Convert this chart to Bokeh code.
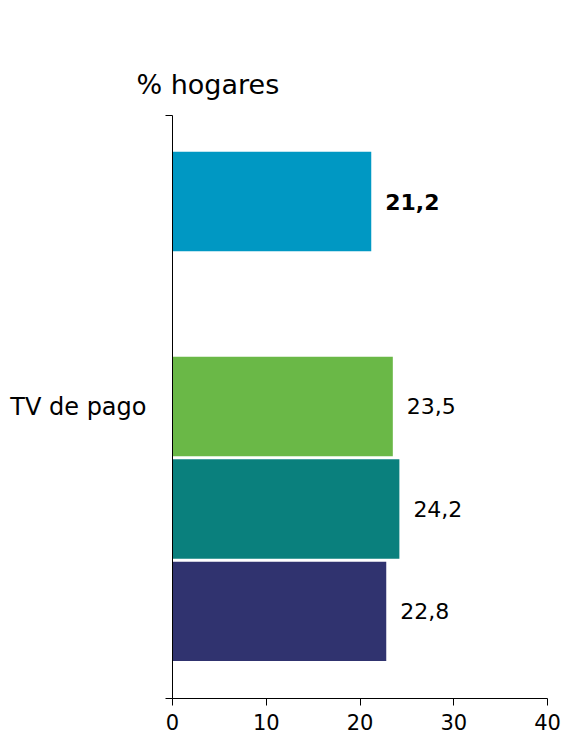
from bokeh.plotting import figure
from bokeh.models import Range1d, FixedTicker, CustomJSTickFormatter, ColumnDataSource
from bokeh.core.properties import value
from bokeh.embed import file_html
from bokeh.resources import INLINE

# ---- data ----
category = "TV de pago"
title_text = "% hogares"
series_values = [21.2, 23.5, 24.2, 22.8]
series_labels = ["21,2", "23,5", "24,2", "22,8"]
series_bold = [True, False, False, False]
x_ticks = [0, 10, 20, 30, 40]

# ---- layout / style ----
colors = ["#0098C3", "#6AB847", "#0A807D", "#30336F"]
slot_pos = [4.85, 2.85, 1.85, 0.85]
bar_h = 0.97
y_top = 5.69
FONT = "DejaVu Sans"

p = figure(width=564, height=738, output_backend="svg", toolbar_location=None,
           x_range=Range1d(0, 40), y_range=Range1d(0, y_top),
           min_border_left=172, min_border_right=17, min_border_top=115, min_border_bottom=40)
p.outline_line_color = None
p.xgrid.visible = False
p.ygrid.visible = False
p.background_fill_color = "white"
p.border_fill_color = "white"

src = ColumnDataSource(dict(
    y=slot_pos, v=series_values, c=colors, lab=series_labels,
    fw=["bold" if b else "normal" for b in series_bold],
))
p.hbar(y="y", right="v", left=0, height=bar_h, fill_color="c", line_color=None, source=src)
p.text(x="v", y="y", text="lab", source=src, x_offset=14, text_align="left",
       text_baseline="middle", text_font=value(FONT), text_font_size="22px",
       text_font_style="fw", text_color="black")

# x axis
xa = p.xaxis[0]
xa.ticker = FixedTicker(ticks=x_ticks, minor_ticks=[])
xa.major_tick_out = 7
xa.major_tick_in = 0
xa.minor_tick_out = 0
xa.minor_tick_in = 0
xa.axis_line_color = "black"
xa.major_tick_line_color = "black"
xa.major_label_text_font = FONT
xa.major_label_text_font_size = "21px"
xa.major_label_text_color = "black"
xa.major_label_standoff = 8

# y axis
ya = p.yaxis[0]
ya.ticker = FixedTicker(ticks=[y_top / 2], minor_ticks=[0, y_top])
ya.formatter = CustomJSTickFormatter(args=dict(lab=category), code="return lab;")
ya.major_tick_out = 0
ya.major_tick_in = 0
ya.minor_tick_out = 7
ya.minor_tick_in = 0
ya.minor_tick_line_color = "black"
ya.axis_line_color = "black"
ya.major_label_text_font = FONT
ya.major_label_text_font_size = "24px"
ya.major_label_text_color = "black"
ya.major_label_standoff = 19

# title
p.title.text = title_text
p.title.align = "left"
p.title.offset = -36
p.title.text_font = FONT
p.title.text_font_size = "27px"
p.title.text_font_style = "normal"
p.title.text_color = "black"
p.title.standoff = 31

open("out.html", "w").write(file_html(p, INLINE))
